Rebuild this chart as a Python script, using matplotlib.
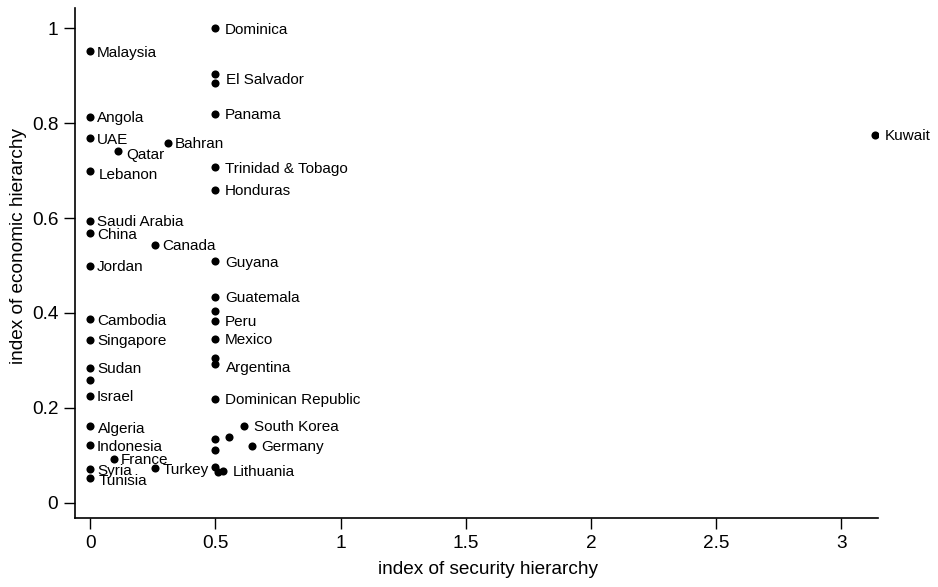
#!/usr/bin/env python3
"""
Scatter of economic vs security hierarchy indices, labelled by country.
"""

import matplotlib.pyplot as plt

# Data
countries = [
    "Dominica", "Malaysia", "El Salvador", "", "Panama", "Angola", "UAE",
    "Qatar", "Bahran", "Trinidad & Tobago", "Lebanon", "Honduras",
    "Saudi Arabia", "China", "Canada", "Guyana", "Jordan", "Guatemala",
    "", "Peru", "Cambodia", "Singapore", "Mexico", "", "Argentina",
    "Sudan", "", "Israel", "Dominican Republic", "South Korea", "Algeria",
    "", "", "Germany", "Indonesia", "", "France", "Turkey", "Syria",
    "", "", "Lithuania", "Tunisia", "Kuwait",
]
security = [
    0.50, 0.00, 0.50, 0.50, 0.50, 0.00, 0.00,
    0.11, 0.31, 0.50, 0.00, 0.50,
    0.00, 0.00, 0.26, 0.50, 0.00, 0.50,
    0.50, 0.50, 0.00, 0.00, 0.50, 0.50, 0.50,
    0.00, 0.00, 0.00, 0.50, 0.615, 0.00,
    0.50, 0.555, 0.645, 0.00, 0.50, 0.095, 0.26, 0.00,
    0.50, 0.51, 0.53, 0.00, 3.135,
]
economic = [
    1.000, 0.951, 0.903, 0.884, 0.819, 0.813, 0.768,
    0.741, 0.758, 0.707, 0.699, 0.659,
    0.594, 0.568, 0.543, 0.509, 0.499, 0.434,
    0.404, 0.383, 0.387, 0.343, 0.345, 0.305, 0.293,
    0.284, 0.259, 0.225, 0.219, 0.162, 0.161,
    0.135, 0.139, 0.120, 0.121, 0.112, 0.093, 0.073, 0.071,
    0.076, 0.064, 0.068, 0.052, 0.775,
]

x_ticks = [0, 0.5, 1, 1.5, 2, 2.5, 3]
x_tick_labels = ["0", "0.5", "1", "1.5", "2", "2.5", "3"]
y_ticks = [0, 0.2, 0.4, 0.6, 0.8, 1]
y_tick_labels = ["0", "0.2", "0.4", "0.6", "0.8", "1"]

plt.rcParams['font.family'] = ['Liberation Sans', 'DejaVu Sans']

fig = plt.figure(figsize=(9.38, 5.87), dpi=100)
ax = fig.add_axes([0.080, 0.1175, 0.856, 0.8685])

ax.scatter(security, economic, s=34, color='black', zorder=3, linewidths=0)

# label nudges (points) for a few crowded markers
nudge = {"El Salvador": (8, -4), "Qatar": (6, -3), "Lebanon": (6, -3),
         "Argentina": (8, -3), "Tunisia": (6, -2), "Algeria": (6, -2)}
for name, xv, yv in zip(countries, security, economic):
    if not name:
        continue
    dx, dy = nudge.get(name, (7 if xv >= 0.5 else 5, -1))
    ax.annotate(name, (xv, yv), xytext=(dx, dy), textcoords='offset points',
                ha='left', va='center', fontsize=11)

ax.set_xlim(-0.06, 3.146)
ax.set_ylim(-0.032, 1.042)
ax.set_xticks(x_ticks, x_tick_labels)
ax.set_yticks(y_ticks, y_tick_labels)
ax.tick_params(direction='out', length=8, width=1, labelsize=13.7, pad=4)

for side in ['top', 'right']:
    ax.spines[side].set_visible(False)
ax.spines['left'].set_linewidth(1.2)
ax.spines['bottom'].set_linewidth(1.2)

ax.set_xlabel('index of security hierarchy', fontsize=13.7)
ax.set_ylabel('index of economic hierarchy', fontsize=13.7)
ax.xaxis.set_label_coords(0.514, -0.085)
ax.yaxis.set_label_coords(-0.060, 0.533)

plt.savefig('out.png', dpi=100)
